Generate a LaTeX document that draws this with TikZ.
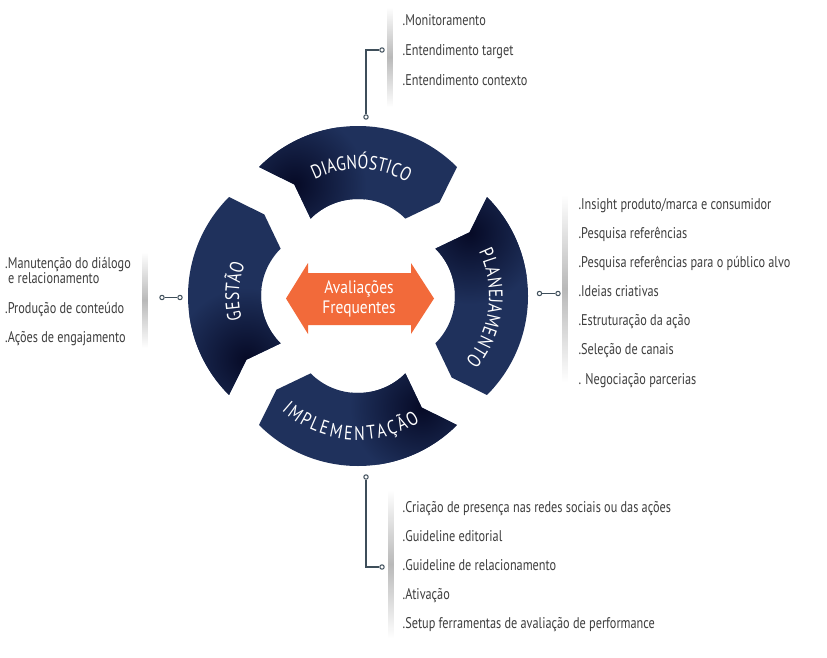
\documentclass[tikz,border=0pt]{standalone}
\usepackage{fontspec}
\setmainfont{PT Sans}[FakeStretch=0.79]
\newfontfamily\segfont{PT Sans}[FakeStretch=0.86]
\newfontfamily\lblfont{PT Sans}[FakeStretch=0.8]
\usetikzlibrary{decorations.text}
\definecolor{navy}{RGB}{31,49,92}
\definecolor{navydark}{RGB}{6,10,38}
\definecolor{orng}{RGB}{242,106,58}
\definecolor{slate}{RGB}{62,78,90}
\definecolor{txt}{RGB}{62,62,62}
\newcommand\segfnt{\lblfont\fontsize{19.5}{21}\selectfont}
\tikzset{
  listtext/.style={anchor=base west, inner sep=0pt, text=txt, font=\fontsize{15.5}{17}\selectfont},
  conn/.style={draw=slate, line width=1.6pt},
  dot/.style={circle, draw=slate, fill=white, line width=1pt, inner sep=0pt, minimum size=4.4pt},
  shadowbar/.style={top color=white, bottom color=white, middle color=gray!55},
  seglabel/.style={decorate, decoration={text effects along path, text={#1},
      text effects/.cd, text along path, fit text to path,
      every character/.style={text=white, font=\segfnt, inner sep=0pt}}},
  avtext/.style={anchor=base, inner sep=0pt, text=white, font=\segfont\fontsize{18}{20}\selectfont},
}
\def\segpath{(135:140) arc[start angle=135,end angle=45,radius=140] -- (38:103.5) -- (45:67) arc[start angle=45,end angle=135,radius=67] -- (128:103.5) -- cycle}
\newcommand\mkseg[1]{%
  \begin{scope}[rotate=#1-90, shift={(90:30)}]
    \fill[navy] \segpath;
    \begin{scope}
      \clip \segpath;
      \shade[inner color=navydark, outer color=navy] (128:103.5) circle (72);
    \end{scope}
  \end{scope}}
\begin{document}
\begin{tikzpicture}[x=1pt,y=1pt]
\useasboundingbox (0,0) rectangle (827,-658);
\fill[white] (0,0) rectangle (827,-658);

% ring segments
\begin{scope}[shift={(358,-296)}]
  \mkseg{90}
  \mkseg{0}
  \mkseg{-90}
  \mkseg{180}
  \begin{scope}[shift={(90:30)}]
    \path[seglabel={DIAGNÓSTICO}] (116.5:97) arc[start angle=116.5,end angle=59.5,radius=97];
  \end{scope}
  \begin{scope}[shift={(0:30)}]
    \path[seglabel={PLANEJAMENTO}] (26:101) arc[start angle=26,end angle=-40,radius=101];
  \end{scope}
  \begin{scope}[shift={(-90:30)}]
    \path[seglabel={IMPLEMENTAÇÃO}] (228:114) arc[start angle=228,end angle=303,radius=114];
  \end{scope}
  \begin{scope}[shift={(180:30)}]
    \path[seglabel={GESTÃO}] (195:89) arc[start angle=195,end angle=159,radius=89];
  \end{scope}
\end{scope}

% central double arrow
\fill[orng] (286,-298.5) -- (308,-263) -- (308,-273) -- (411,-273) -- (411,-263) -- (434,-298.5)
  -- (411,-334) -- (411,-325) -- (308,-325) -- (308,-334) -- cycle;
\node[avtext] (av1) at (359,-293) {Avaliações};
\node[avtext] (av2) at (359,-313) {Frequentes};

% shadow bars
\shade[shadowbar] (387.5,-7) rectangle (392.5,-107);
\shade[shadowbar] (562.5,-195) rectangle (567.5,-382);
\shade[shadowbar] (388.5,-490) rectangle (393.5,-638);
\shade[shadowbar] (142.5,-252) rectangle (147.5,-348);

% connectors
\node[dot] (tA) at (366,-117) {};
\node[dot] (tB) at (382,-50) {};
\draw[conn] (tA) |- (tB);
\node[dot] (bA) at (366,-477) {};
\node[dot] (bB) at (382,-567) {};
\draw[conn] (bA) |- (bB);
\node[dot] (rA) at (539.5,-293.5) {};
\node[dot] (rB) at (558,-293.5) {};
\draw[conn] (rA) -- (rB);
\node[dot] (lA) at (162,-297.5) {};
\node[dot] (lB) at (180,-297.5) {};
\draw[conn] (lA) -- (lB);

% top list
\node[listtext] (d1) at (402.5,-25.7) {.Monitoramento};
\node[listtext] (d2) at (402.5,-55.7) {.Entendimento target};
\node[listtext] (d3) at (402.5,-85.7) {.Entendimento contexto};

% right list
\node[listtext] (p1) at (578.3,-209) {.Insight produto/marca e consumidor};
\node[listtext] (p2) at (578.3,-238.2) {.Pesquisa referências};
\node[listtext] (p3) at (578.3,-267.3) {.Pesquisa referências para o público alvo};
\node[listtext] (p4) at (578.3,-296.5) {.Ideias criativas};
\node[listtext] (p5) at (578.3,-325.7) {.Estruturação da ação};
\node[listtext] (p6) at (578.3,-354.8) {.Seleção de canais};
\node[listtext] (p7) at (578.3,-384) {. Negociação parcerias};

% bottom list
\node[listtext] (i1) at (402.5,-512.5) {.Criação de presença nas redes sociais ou das ações};
\node[listtext] (i2) at (402.5,-541.5) {.Guideline editorial};
\node[listtext] (i3) at (402.5,-570.5) {.Guideline de relacionamento};
\node[listtext] (i4) at (402.5,-599.5) {.Ativação};
\node[listtext] (i5) at (402.5,-628.5) {.Setup ferramentas de avaliação de performance};

% left list
\node[listtext] (g1) at (5,-268) {.Manutenção do diálogo};
\node[listtext] (g1b) at (8,-283) {e relacionamento};
\node[listtext] (g2) at (5,-313) {.Produção de conteúdo};
\node[listtext] (g3) at (5,-342) {.Ações de engajamento};
\end{tikzpicture}
\end{document}
